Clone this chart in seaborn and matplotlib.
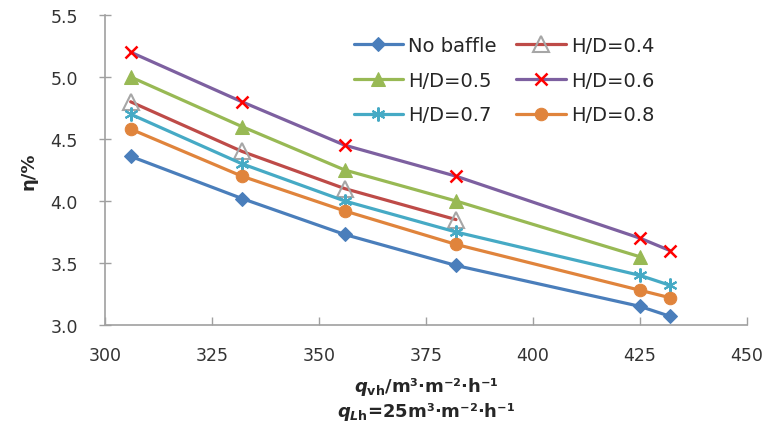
import matplotlib
matplotlib.use("Agg")
import matplotlib.pyplot as plt
import seaborn as sns

# gas load q_vh and efficiency eta (%) per baffle configuration
q_vh = [306, 332, 356, 382, 425, 432]

no_baffle = [4.36, 4.02, 3.73, 3.48, 3.15, 3.07]
hd_04 = [4.80, 4.40, 4.10, 3.85]
hd_05 = [5.00, 4.60, 4.25, 4.00, 3.55]
hd_06 = [5.20, 4.80, 4.45, 4.20, 3.70, 3.60]
hd_07 = [4.70, 4.30, 4.00, 3.75, 3.40, 3.32]
hd_08 = [4.58, 4.20, 3.92, 3.65, 3.28, 3.22]

sns.set_style("white")
plt.rcParams["font.family"] = ["DejaVu Sans"]
plt.rcParams["mathtext.fontset"] = "custom"
plt.rcParams["mathtext.rm"] = "DejaVu Sans:bold"
plt.rcParams["mathtext.it"] = "DejaVu Sans:italic:bold"

fig = plt.figure(figsize=(7.69, 4.39), dpi=100)
ax = fig.add_axes([0.1365, 0.2574, 0.835, 0.7062])

lw = 2.3
series = [
    ("No baffle", no_baffle, dict(color="#4A7EBB", marker="D", markersize=7,
                                  markerfacecolor="#4A7EBB", markeredgecolor="#4A7EBB")),
    ("H/D=0.4", hd_04, dict(color="#BE4B48", marker="^", markersize=11,
                            markerfacecolor="none", markeredgecolor="#A6A6A6", markeredgewidth=1.5)),
    ("H/D=0.5", hd_05, dict(color="#98B954", marker="^", markersize=10,
                            markerfacecolor="#98B954", markeredgecolor="#98B954")),
    ("H/D=0.6", hd_06, dict(color="#7D60A0", marker="x", markersize=9,
                            markeredgecolor="#FF0000", markeredgewidth=1.8)),
    ("H/D=0.7", hd_07, dict(color="#46AAC5", marker=(6, 2, 0), markersize=10,
                            markeredgecolor="#46AAC5", markeredgewidth=1.5)),
    ("H/D=0.8", hd_08, dict(color="#E0843C", marker="o", markersize=9,
                            markerfacecolor="#E0843C", markeredgecolor="#E0843C")),
]

for name, vals, style in series:
    sns.lineplot(x=q_vh[:len(vals)], y=vals, ax=ax, label=name, linewidth=lw, **style)

ax.set_xlim(300, 450)
ax.set_ylim(3.0, 5.5)
ax.set_xticks([300, 325, 350, 375, 400, 425, 450])
ax.set_yticks([3.0, 3.5, 4.0, 4.5, 5.0, 5.5])
ax.set_yticklabels(["3.0", "3.5", "4.0", "4.5", "5.0", "5.5"])

for side in ["top", "right"]:
    ax.spines[side].set_visible(False)
for side in ["left", "bottom"]:
    ax.spines[side].set_color("#A0A0A0")
    ax.spines[side].set_linewidth(1.2)

ax.tick_params(axis="y", direction="inout", length=9, width=1, color="#A0A0A0",
               labelsize=12.5, labelcolor="#333333", pad=15, left=True)
ax.tick_params(axis="x", direction="in", length=6, width=1, color="#A0A0A0",
               labelsize=12.5, labelcolor="#333333", pad=15, bottom=True)

ax.set_ylabel("η/%", fontsize=13, fontweight="bold", labelpad=9)
ax.set_xlabel("$q_{\\mathrm{vh}}$/m³·m⁻²·h⁻¹\n$q_{L\\mathrm{h}}$=25m³·m⁻²·h⁻¹",
              fontsize=13, fontweight="bold", labelpad=8, linespacing=1.2)

handles, labels = ax.get_legend_handles_labels()
order = [0, 2, 4, 1, 3, 5]
ax.legend([handles[i] for i in order], [labels[i] for i in order], ncol=2,
          loc="upper left", bbox_to_anchor=(0.360, 0.99), frameon=False,
          fontsize=14, handlelength=2.55, handletextpad=0.26, columnspacing=1.0,
          labelspacing=0.82)

fig.savefig("out.png", dpi=100)
